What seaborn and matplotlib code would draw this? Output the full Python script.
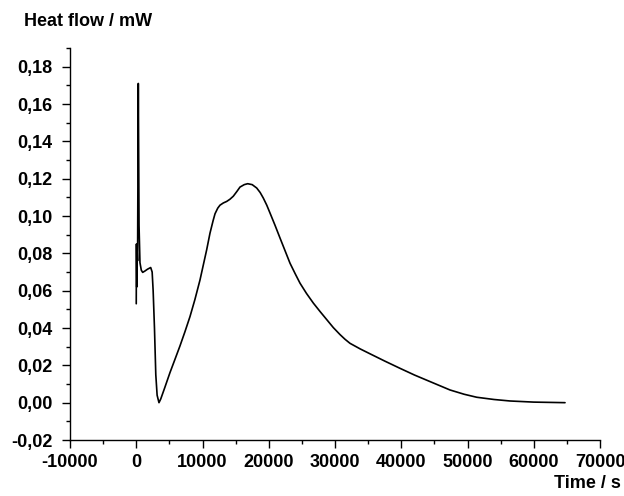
import matplotlib
matplotlib.use("Agg")
import matplotlib.pyplot as plt
import seaborn as sns
import pandas as pd
from matplotlib.ticker import FixedLocator, FuncFormatter

# ---- data ----
time_s = [0, 30, 80, 120, 200, 310, 420, 560, 760, 970, 1300, 1700, 2180, 2400,
          2550, 2750, 2950, 3150, 3430, 3700, 4300, 5090, 5800, 6600, 7350, 8110,
          8850, 9620, 10630, 11130, 11600, 11890, 12300, 12640, 13150, 13650,
          14150, 14650, 15200, 15660, 16300, 16820, 17500, 18180, 18700, 19180,
          19700, 20190, 20950, 21700, 22450, 23210, 24000, 24720, 25700, 26740,
          27750, 28750, 29750, 30750, 31500, 32260, 33800, 35500, 37500, 39810,
          42000, 44340, 47360, 49500, 51390, 54000, 56420, 60000, 64720]
heat_flow_mw = [0.053, 0.085, 0.062, 0.082, 0.076, 0.171, 0.095, 0.075, 0.071, 0.0698,
                0.0705, 0.0715, 0.0724, 0.0700, 0.060, 0.040, 0.015, 0.004, 0.000,
                0.002, 0.008, 0.0161, 0.0228, 0.0304, 0.0380, 0.0461, 0.0552,
                0.0657, 0.0819, 0.0908, 0.0975, 0.1012, 0.1042, 0.1058, 0.1070,
                0.1078, 0.1090, 0.1106, 0.1132, 0.1155, 0.1168, 0.1173, 0.1168,
                0.1150, 0.1126, 0.1096, 0.1058, 0.1016, 0.0950, 0.0882, 0.0815,
                0.0747, 0.0690, 0.0640, 0.0585, 0.0533, 0.0488, 0.0445, 0.0402,
                0.0365, 0.0340, 0.0318, 0.0288, 0.0258, 0.0223, 0.0184, 0.0148,
                0.0113, 0.0068, 0.0045, 0.0029, 0.0017, 0.0009, 0.0003, 0.0000]

x_ticks = [-10000, 0, 10000, 20000, 30000, 40000, 50000, 60000, 70000]
y_ticks = [-0.02, 0.00, 0.02, 0.04, 0.06, 0.08, 0.10, 0.12, 0.14, 0.16, 0.18]
x_label = "Time / s"
y_label = "Heat flow / mW"

df = pd.DataFrame({"t": time_s, "q": heat_flow_mw})

sns.set_style("ticks")
plt.rcParams["font.family"] = ["Liberation Sans", "DejaVu Sans"]
plt.rcParams["font.weight"] = "bold"
plt.rcParams["text.color"] = "black"

fig = plt.figure(figsize=(6.24, 4.96), dpi=100)
ax = fig.add_axes([70 / 624, 1 - 440 / 496, 530 / 624, 392 / 496])

sns.lineplot(data=df, x="t", y="q", sort=False, estimator=None,
             color="black", linewidth=1.2, ax=ax)

ax.set_xlim(-10000, 70000)
ax.set_ylim(-0.02, 0.19)
ax.xaxis.set_major_locator(FixedLocator(x_ticks))
ax.yaxis.set_major_locator(FixedLocator(y_ticks))
ax.xaxis.set_minor_locator(FixedLocator([v + 5000 for v in x_ticks[:-1]]))
ax.yaxis.set_minor_locator(FixedLocator([round(v + 0.01, 3) for v in y_ticks]))
ax.xaxis.set_major_formatter(FuncFormatter(lambda v, p: f"{v:.0f}"))
ax.yaxis.set_major_formatter(
    FuncFormatter(lambda v, p: f"{v:.2f}".replace(".", ",").replace("-0,00", "0,00")))

ax.set_xlabel("")
ax.set_ylabel("")
for s in ["top", "right"]:
    ax.spines[s].set_visible(False)
for s in ["left", "bottom"]:
    ax.spines[s].set_linewidth(1.0)
    ax.spines[s].set_color("black")

ax.tick_params(which="major", direction="out", length=6, width=1.0,
               labelsize=13, colors="black")
ax.tick_params(which="minor", direction="out", length=3, width=1.0, colors="black")
ax.tick_params(axis="y", which="major", pad=6.5)
ax.tick_params(axis="x", which="major", pad=4)
for lab in ax.get_xticklabels() + ax.get_yticklabels():
    lab.set_fontweight("bold")

fig.text(88 / 624, 1 - 22 / 496, y_label, ha="center", va="center",
         fontsize=13, fontweight="bold", color="black")
fig.text(621 / 624, 1 - 484 / 496, x_label, ha="right", va="center",
         fontsize=13, fontweight="bold", color="black")

fig.savefig("out.png", dpi=100)
